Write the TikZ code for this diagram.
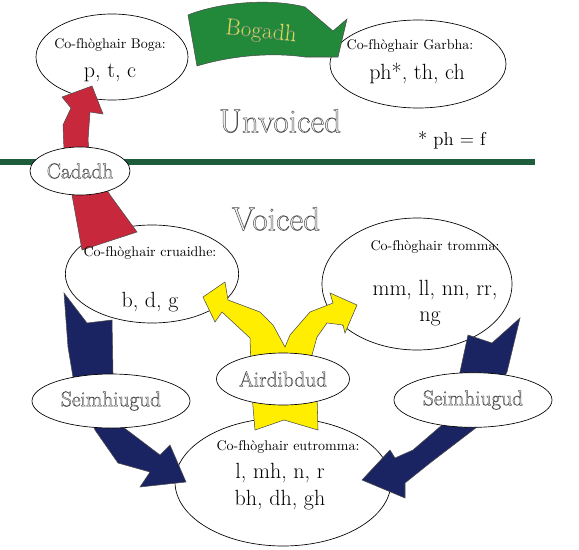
\documentclass[tikz,border=0pt]{standalone}
\usetikzlibrary{shapes.geometric}
\definecolor{cred}{HTML}{C8283C}
\definecolor{cblue}{HTML}{1B2463}
\definecolor{cyel}{HTML}{FFEE00}
\definecolor{cgreen}{HTML}{22883A}
\definecolor{cline}{HTML}{1F5C3C}
\definecolor{cbog}{HTML}{D2E84A}
\newcommand\hollowtxt[3]{\special{pdf:literal direct #1 G #2 w 2 Tr}#3\special{pdf:literal direct 0 Tr}}
\tikzset{
  cell/.style={ellipse, draw=black, line width=0.5pt, fill=white, inner sep=0pt},
  lab/.style={ellipse, draw=black, line width=0.5pt, fill=white, inner sep=0pt,
     font=\fontsize{16}{18}\selectfont, text=black!12},
  hdr/.style={font=\fontsize{10.5}{12}\selectfont, inner sep=0pt},
  big/.style={font=\fontsize{16.5}{19}\selectfont, inner sep=0pt},
  blockarrow/.style={draw=black!70, line width=0.4pt, line join=miter}
}
\begin{document}
\begin{tikzpicture}[x=0.75pt,y=-0.75pt]
\useasboundingbox (0,0) rectangle (579,550);
% separator line
\draw[cline, line width=3.8pt] (0,162) -- (535,162);
% content ellipses
\node[cell, minimum width=114pt, minimum height=64.5pt] (boga) at (112,57) {};
\node[cell, minimum width=132pt, minimum height=66pt] (garbha) at (418,64) {};
\node[cell, minimum width=130pt, minimum height=73.5pt] (cruaidhe) at (152,274) {};
\node[cell, minimum width=142.5pt, minimum height=99pt] (tromma) at (417,284) {};
\node[cell, minimum width=162pt, minimum height=96pt] (eutromma) at (283,482) {};
% arrows
\fill[cgreen, blockarrow] (188,15) .. controls (215,4) and (265,-3) .. (305,7) -- (333,31) -- (347,19) -- (338,57) -- (305,57) .. controls (270,52) and (230,56) .. (197,66) -- cycle;
\fill[cred, blockarrow] (82,250) -- (72,195) -- (64,150) -- (63,125) -- (71,108) -- (62,97) -- (92,86) -- (103,114) -- (90,112) -- (88,140) -- (90,160) -- (110,195) -- (137,232) -- cycle;
\fill[cblue, blockarrow] (64,293) -- (87,323) -- (112,320) -- (113,373) -- (123,427) -- (160,455) -- (170,445) -- (186,482) -- (140,487) -- (150,472) -- (118,463) -- (95,430) -- (73,377) -- (68,347) -- cycle;
\fill[cblue, blockarrow] (520,318) -- (507,372) -- (477,427) -- (430,463) -- (405,483) -- (405,498) -- (362,480) -- (390,450) -- (395,458) -- (413,450) -- (442,425) -- (460,372) -- (468,335) -- (492,343) -- cycle;
\fill[cyel, blockarrow] (255,430) -- (252,395) -- (250,338) -- (222,312) -- (215,322) -- (203,297) -- (225,282) -- (228,300) -- (260,312) -- (273,325) -- (285,347) -- (290,335) -- (310,312) -- (333,303) -- (330,293) -- (357,305) -- (345,333) -- (343,325) -- (327,323) -- (317,337) -- (312,355) -- (317,395) -- (318,430) -- (284,420) -- cycle;
% label ellipses
\node[lab, minimum width=75pt, minimum height=36pt] (cadadh) at (80,171) {\hollowtxt{0.3}{0.3}{Cadadh}};
\node[lab, minimum width=99.75pt, minimum height=39pt] (airdibdud) at (283,379) {\hollowtxt{0.3}{0.3}{Airdibdud}};
\node[lab, minimum width=118.5pt, minimum height=40.5pt] (seimL) at (111,401) {\hollowtxt{0.3}{0.3}{Seimhiugud}};
\node[lab, minimum width=118.5pt, minimum height=41pt] (seimR) at (473,400) {\hollowtxt{0.3}{0.3}{Seimhiugud}};
% texts
\node[font=\fontsize{17.5}{20}\selectfont, text=cbog, rotate=-6, inner sep=0pt] (bogadh) at (261,32) {\hollowtxt{0.5}{0.12}{Bogadh}};
\node[hdr] (hB1) at (110,45) {Co-fhòghair Boga:};
\node[big] (hB2) at (110,73) {p, t, c};
\node[hdr] (hG1) at (410,46) {Co-fhòghair Garbha:};
\node[big] (hG2) at (417,73) {ph*, th, ch};
\node[font=\fontsize{25}{28}\selectfont, text=black!6, inner sep=0pt] (unv) at (280,121) {\hollowtxt{0.3}{0.35}{Unvoiced}};
\node[font=\fontsize{25}{28}\selectfont, text=black!6, inner sep=0pt] (voi) at (276,219) {\hollowtxt{0.3}{0.35}{Voiced}};
\node[font=\fontsize{14}{16}\selectfont, inner sep=0pt] (foot) at (452,140) {* ph = f};
\node[hdr] (hC1) at (150,253) {Co-fhòghair cruaidhe:};
\node[big] (hC2) at (150,302) {b, d, g};
\node[hdr] (hT1) at (435,247) {Co-fhòghair tromma:};
\node[big] (hT2) at (435,290) {mm, ll, nn, rr,};
\node[big] (hT3) at (430,319) {ng};
\node[hdr] (hE1) at (288,447) {Co-fhòghair eutromma:};
\node[big] (hE2) at (280,473) {l, mh, n, r};
\node[big] (hE3) at (280,500) {bh, dh, gh};
\end{tikzpicture}
\end{document}
